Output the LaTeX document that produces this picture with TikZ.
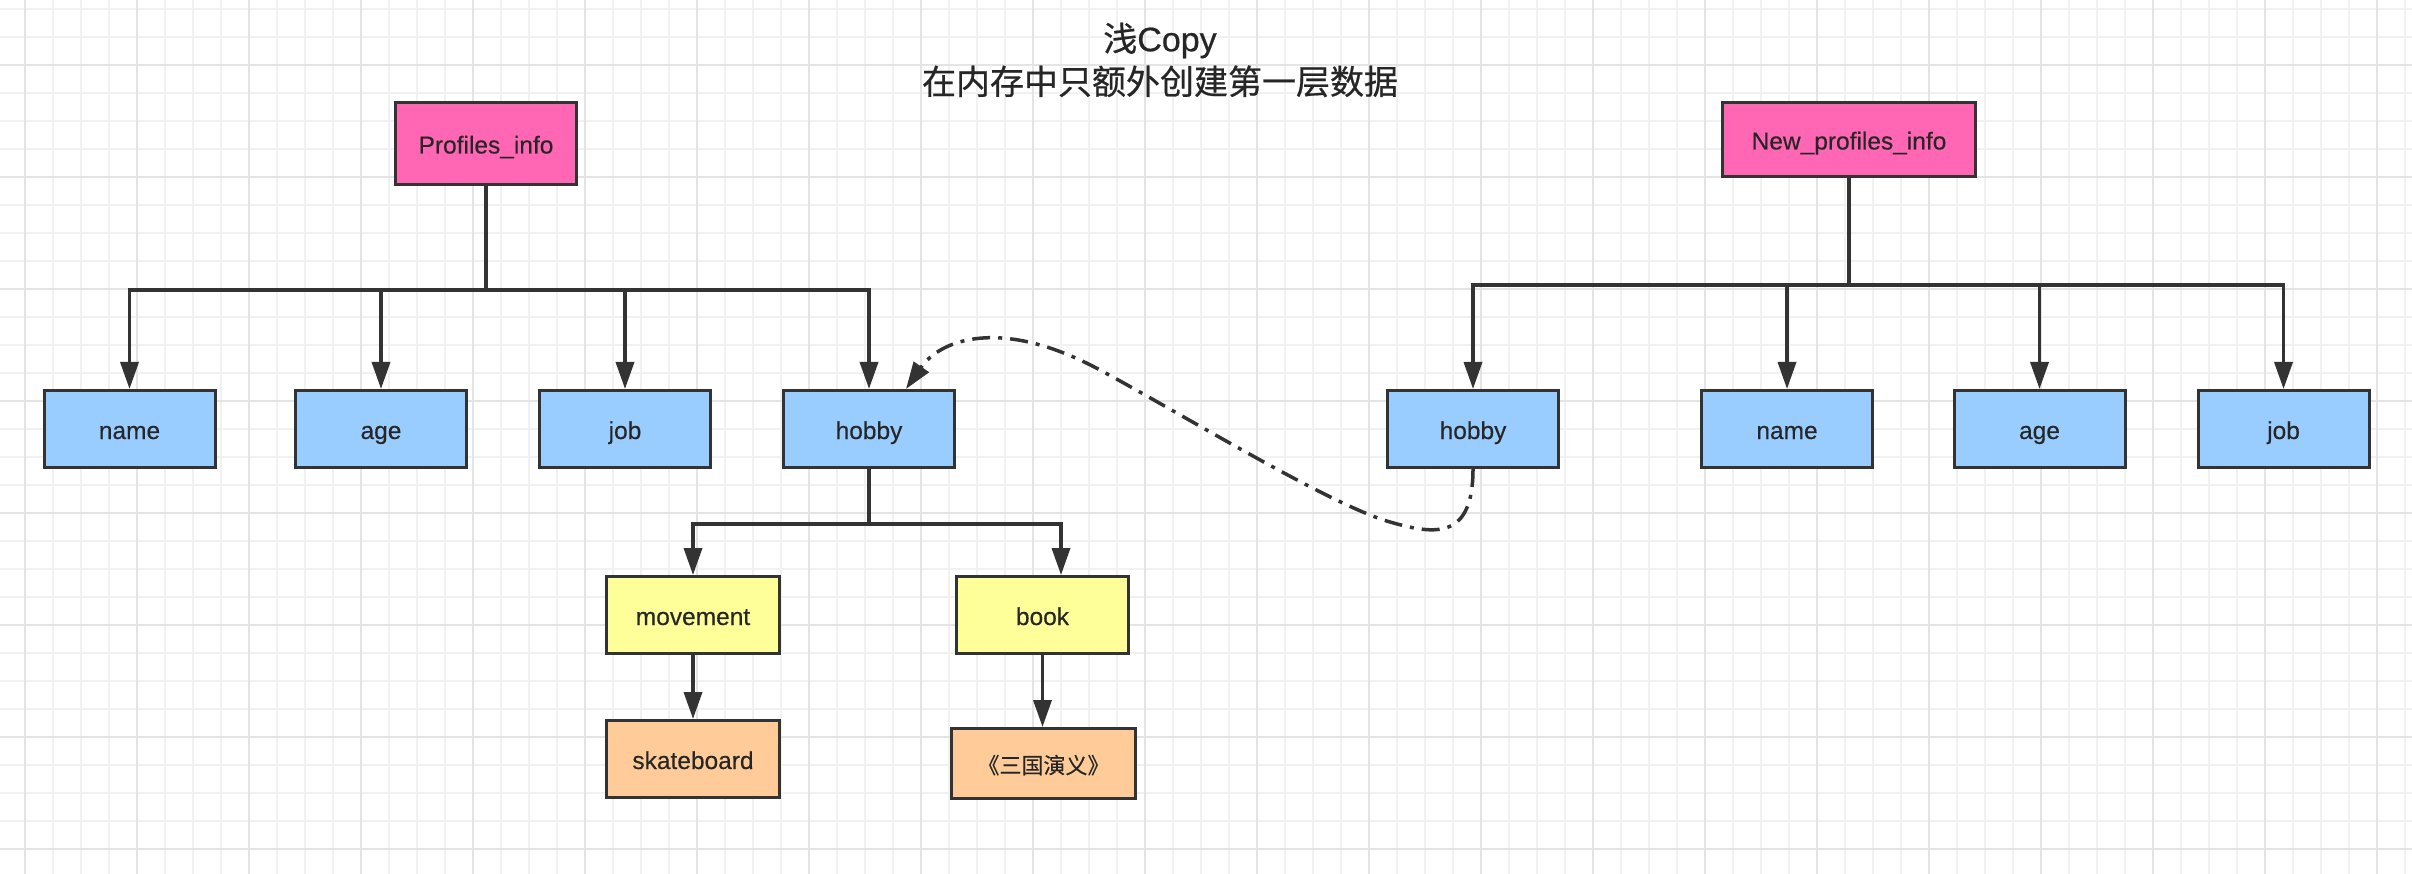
\documentclass[tikz,border=0pt]{standalone}
\usepackage{fontspec}
\setmainfont{Liberation Sans}[FakeBold=0.3]
\newfontfamily\cjk{Noto Sans CJK SC}[FakeBold=0.3]
\newfontfamily\titlefont{Liberation Sans}[FakeBold=0.6]
\newfontfamily\cjktitle{Noto Sans CJK SC}[FakeBold=0.6]
\usepackage{xcolor}
\usetikzlibrary{arrows.meta}
\definecolor{pinkfill}{HTML}{FF66B3}
\definecolor{bluefill}{HTML}{99CCFF}
\definecolor{yellowfill}{HTML}{FFFF99}
\definecolor{orangefill}{HTML}{FFCC99}
\definecolor{edgegray}{HTML}{333333}
\definecolor{gridminor}{HTML}{F1F1F1}
\definecolor{gridmajor}{HTML}{E4E4E4}

\begin{document}
\begin{tikzpicture}[x=1pt, y=-1pt,
    box/.style={draw=edgegray, line width=3pt, minimum width=171pt, minimum height=77pt,
      inner sep=0pt, text height=20pt, text depth=0pt, text=black!85, font=\fontsize{24.5}{29}\selectfont},
    link/.style={draw=edgegray, line width=3.5pt, -{Triangle[length=27pt, width=18pt]}},
    copylink/.style={link, dash pattern=on 18pt off 8pt on 4pt off 8pt}]
    \useasboundingbox[fill=white] (0,0) rectangle (2412,874);
    \foreach \gx in {25,53,...,2405} \draw[gridminor, line width=1.5pt] (\gx,0) -- (\gx,874);
    \foreach \gy in {9,37,...,874} \draw[gridminor, line width=1.5pt] (0,\gy) -- (2412,\gy);
    \foreach \gx in {25,137,...,2412} \draw[gridmajor, line width=1.5pt] (\gx,0) -- (\gx,874);
    \foreach \gy in {65,177,...,874} \draw[gridmajor, line width=1.5pt] (0,\gy) -- (2412,\gy);

    \node[font=\titlefont\fontsize{34}{43}\selectfont, align=center, text=black!85] (title) at (1160,60)
      {{\cjktitle 浅}Copy\\{\cjktitle 在内存中只额外创建第一层数据}};

    \node[box, fill=pinkfill, minimum width=181pt, minimum height=82pt] (profiles) at (486,143.5) {Profiles\_info};
    \node[box, fill=pinkfill, minimum width=253pt, minimum height=74pt] (newprofiles) at (1849,139.5) {New\_profiles\_info};

    \node[box, fill=bluefill] (name) at (129.5,429) {name};
    \node[box, fill=bluefill] (age) at (381,429) {age};
    \node[box, fill=bluefill] (job) at (625,429) {job};
    \node[box, fill=bluefill] (hobby) at (869,429) {hobby};
    \node[box, fill=bluefill] (newhobby) at (1473,429) {hobby};
    \node[box, fill=bluefill] (newname) at (1787,429) {name};
    \node[box, fill=bluefill] (newage) at (2039.5,429) {age};
    \node[box, fill=bluefill] (newjob) at (2283.5,429) {job};

    \node[box, fill=yellowfill, minimum width=173pt] (movement) at (693,615) {movement};
    \node[box, fill=yellowfill, minimum width=172pt] (book) at (1042.5,615) {book};
    \node[box, fill=orangefill, minimum width=173pt] (skateboard) at (693,759) {skateboard};
    \node[box, fill=orangefill, minimum width=184pt, minimum height=70pt,
      font=\cjk\fontsize{22}{26}\selectfont] (sanguo) at (1043.5,763.5) {《三国演义》};

    \foreach \n in {name,age,job,hobby}
      \draw[link] (profiles.south) -- ++(0,104) -| (\n.north);
    \foreach \n in {newhobby,newname,newage,newjob}
      \draw[link] (newprofiles.south) -- ++(0,107) -| (\n.north);
    \draw[link] (hobby.south) -- ++(0,55) -| (movement.north);
    \draw[link] (hobby.south) -- ++(0,55) -| ([xshift=18.5pt]book.north);
    \draw[link] (movement) -- (skateboard);
    \draw[link] (book.south) -- (book.south |- sanguo.north);

    \draw[copylink] (newhobby.south) .. controls (1473,540) and (1435,535) .. (1390,522)
      .. controls (1330,505) and (1180,413) .. (1100,370)
      .. controls (1000,316) and (940,340) .. ([xshift=37pt]hobby.north);
\end{tikzpicture}
\end{document}
